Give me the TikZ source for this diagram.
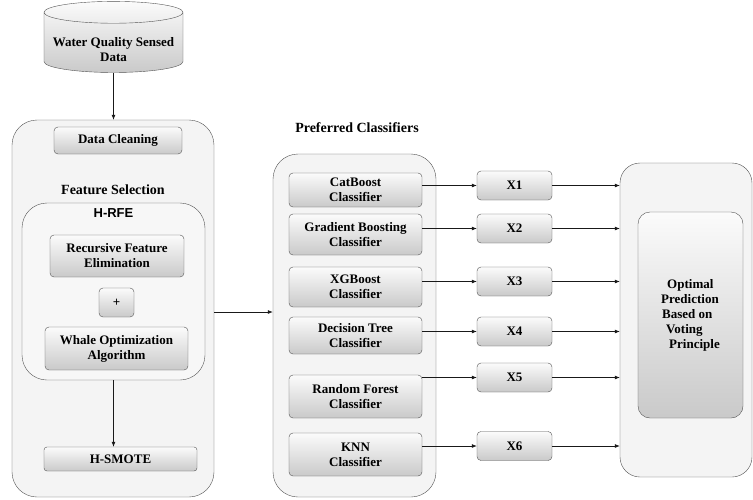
\documentclass[tikz,border=0pt]{standalone}
\usepackage{fontspec}
\setmainfont{Liberation Serif}
\newfontfamily\rfesans{Liberation Sans}
\usepackage{tikz}
\usetikzlibrary{arrows.meta,positioning,shapes.geometric}

\begin{document}
\begin{tikzpicture}[x=1pt, y=-1pt,
  box/.style={draw=gray!65!black, rounded corners=4pt, top color=gray!3, bottom color=gray!42, align=center, inner sep=0pt, font=\fontsize{13}{15}\selectfont\bfseries},
  panel/.style={draw=gray!65!black, rounded corners=25pt, fill=gray!9, inner sep=0pt},
  head/.style={font=\fontsize{14}{16}\selectfont\bfseries},
  arr/.style={-{Latex[length=5pt,width=4pt]}, line width=0.7pt, draw=gray!20!black}
]
\useasboundingbox (0,0) rectangle (753,499);

% input data
\node[cylinder, shape border rotate=90, aspect=0.18, draw=gray!65!black, top color=gray!3, bottom color=gray!42,
      minimum width=139pt, minimum height=57pt, align=center, inner sep=0pt,
      font=\fontsize{13}{15}\selectfont\bfseries] (src) at (113.5,42.5) {\\[8pt]Water Quality Sensed\\Data};

% left panel: preprocessing
\node[panel, minimum width=202pt, minimum height=377pt] (prep) at (113,308.5) {};
\node[box, minimum width=128pt, minimum height=27pt] (clean) at (118,140.5) {Data Cleaning};
\node[head] (fsel) at (113,190) {Feature Selection};
\node[panel, fill=gray!6, minimum width=183pt, minimum height=177pt] (hrfe) at (113.5,291.5) {};
\node[font=\rfesans\fontsize{13}{15}\selectfont\bfseries] (hrfelbl) at (113.5,213) {H-RFE};
\node[box, minimum width=134pt, minimum height=42pt] (rfe) at (117,256) {Recursive Feature\\Elimination};
\node[box, minimum width=35pt, minimum height=29pt] (plus) at (116.5,302.5) {+};
\node[box, minimum width=143pt, minimum height=43pt] (woa) at (116.5,348.5) {Whale Optimization\\Algorithm};
\node[box, rounded corners=3pt, minimum width=153pt, minimum height=24pt] (smote) at (120.5,459) {H-SMOTE};

% middle panel: classifiers
\node[head] (clfhead) at (357,128) {Preferred Classifiers};
\node[panel, minimum width=163pt, minimum height=343pt] (clf) at (354.5,325.5) {};
\node[box, minimum width=133pt, minimum height=34pt] (cat) at (355.5,190) {CatBoost\\Classifier};
\node[box, minimum width=133pt, minimum height=41pt] (gbc) at (355.5,234.5) {Gradient Boosting\\Classifier};
\node[box, minimum width=133pt, minimum height=40pt] (xgb) at (355.5,287) {XGBoost\\Classifier};
\node[box, minimum width=133pt, minimum height=37pt] (dtc) at (355.5,335.5) {Decision Tree\\Classifier};
\node[box, minimum width=133pt, minimum height=43pt] (rfc) at (355.5,396.5) {Random Forest\\Classifier};
\node[box, minimum width=133pt, minimum height=43pt] (knn) at (355.5,454.5) {KNN\\Classifier};

% outputs
\node[box, minimum width=75pt, minimum height=29pt] (x1) at (514.5,185.5) {X1};
\node[box, minimum width=75pt, minimum height=29pt] (x2) at (514.5,228.5) {X2};
\node[box, minimum width=75pt, minimum height=29pt] (x3) at (514.5,281.5) {X3};
\node[box, minimum width=75pt, minimum height=29pt] (x4) at (514.5,331.5) {X4};
\node[box, minimum width=75pt, minimum height=29pt] (x5) at (514.5,377.5) {X5};
\node[box, minimum width=75pt, minimum height=29pt] (x6) at (514.5,446) {X6};

% right panel: voting
\node[panel, rounded corners=20pt, minimum width=132pt, minimum height=314pt] (vote) at (686,320) {};
\node[box, rounded corners=12pt, align=left, minimum width=105pt, minimum height=206pt] (optim) at (690.5,315)
  {\hspace*{6pt}Optimal\\Prediction\\\hspace*{1pt}Based on\\\hspace*{5pt}Voting\\\hspace*{8pt}Principle};

\draw[arr] (src.south) -- (src.south |- prep.north);
\draw[arr] (hrfe.south) -- (hrfe.south |- smote.north);
\draw[arr] ([yshift=-3.5pt]prep.east) -- ([yshift=-3.5pt]prep.east -| clf.west);
\draw[arr] (x1.west -| cat.east) -- (x1.west);
\draw[arr] (x2.west -| gbc.east) -- (x2.west);
\draw[arr] (x3.west -| xgb.east) -- (x3.west);
\draw[arr] (x4.west -| dtc.east) -- (x4.west);
\draw[arr] (x5.west -| rfc.east) -- (x5.west);
\draw[arr] (x6.west -| knn.east) -- (x6.west);
\draw[arr] (x1.east) -- (x1.east -| vote.west);
\draw[arr] (x2.east) -- (x2.east -| vote.west);
\draw[arr] (x3.east) -- (x3.east -| vote.west);
\draw[arr] (x4.east) -- (x4.east -| vote.west);
\draw[arr] (x5.east) -- (x5.east -| vote.west);
\draw[arr] (x6.east) -- (x6.east -| vote.west);
\end{tikzpicture}
\end{document}
